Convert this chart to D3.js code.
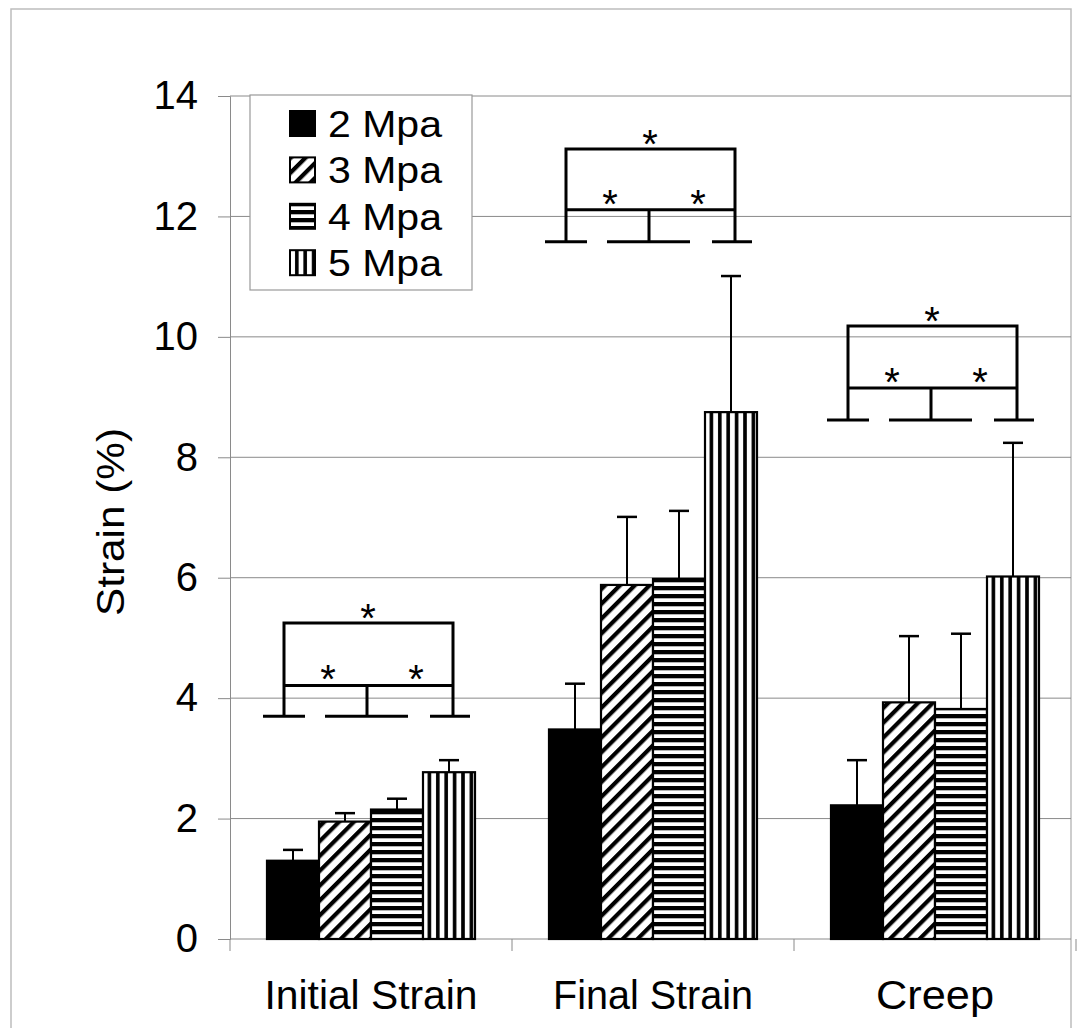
<!DOCTYPE html>
<html>
<head>
<meta charset="utf-8">
<script src="https://cdn.jsdelivr.net/npm/d3@7"></script>
<style>
  body { margin: 0; background: #fff; }
  svg { display: block; font-family: "Liberation Sans", Arial, sans-serif; }
</style>
</head>
<body>
<div id="chart"></div>
<script>
// data
const categories = ['Initial Strain', 'Final Strain', 'Creep']
const pressures = ['2 Mpa', '3 Mpa', '4 Mpa', '5 Mpa']
const means = [
  [1.30, 1.95, 2.15, 2.77],
  [3.48, 5.88, 5.98, 8.75],
  [2.22, 3.93, 3.82, 6.02]
]
const errors = [
  [0.18, 0.14, 0.18, 0.20],
  [0.76, 1.13, 1.13, 2.26],
  [0.75, 1.10, 1.25, 2.22]
]
// significance brackets (strain levels)
const bracketTop = [5.25, 13.12, 10.18]
const bracketMid = [4.21, 12.11, 9.15]
const bracketBase = [3.70, 11.58, 8.62]
const yTicks = [0, 2, 4, 6, 8, 10, 12, 14]

const width = 1078, height = 1028
const plotLeft = 230, plotRight = 1076, plotTop = 96, plotBottom = 939

const svg = d3.select('#chart').append('svg')
  .attr('width', width)
  .attr('height', height)

// patterns
const defs = svg.append('defs')
let pd = defs.append('pattern').attr('id', 'p3')
  .attr('patternUnits', 'userSpaceOnUse')
  .attr('width', 10.5).attr('height', 10.5)
  .attr('patternTransform', 'rotate(45)')
pd.append('rect').attr('width', 10.5).attr('height', 10.5).attr('fill', '#fff')
pd.append('rect').attr('width', 4.2).attr('height', 10.5).attr('fill', '#000')

let ph = defs.append('pattern').attr('id', 'p4')
  .attr('patternUnits', 'userSpaceOnUse')
  .attr('width', 8).attr('height', 8)
ph.append('rect').attr('width', 8).attr('height', 8).attr('fill', '#fff')
ph.append('rect').attr('y', 2).attr('width', 8).attr('height', 4.3).attr('fill', '#000')

let pv = defs.append('pattern').attr('id', 'p5')
  .attr('patternUnits', 'userSpaceOnUse')
  .attr('width', 8.4).attr('height', 8)
pv.append('rect').attr('width', 8.4).attr('height', 8).attr('fill', '#fff')
pv.append('rect').attr('x', 1).attr('width', 3.6).attr('height', 8).attr('fill', '#000')

const fills = ['#000', 'url(#p3)', 'url(#p4)', 'url(#p5)']

// frame
svg.append('path')
  .attr('d', `M11,1028 V9 H1071 V1028`)
  .attr('fill', 'none')
  .attr('stroke', '#bdbdbd')
  .attr('stroke-width', 1.5)

const x = d3.scaleBand().domain(categories).range([plotLeft, plotRight])
  .paddingInner(0.2624).paddingOuter(0.1312)
const xSub = d3.scaleBand().domain(pressures).range([0, x.bandwidth()])
const y = d3.scaleLinear().domain([0, 14]).range([plotBottom, plotTop])

// gridlines
svg.append('g').selectAll('line').data(yTicks.slice(1)).enter().append('line')
  .attr('x1', plotLeft).attr('x2', 1071)
  .attr('y1', d => y(d)).attr('y2', d => y(d))
  .attr('stroke', '#8a8a8a').attr('stroke-width', 1)

// y axis
const yAxis = svg.append('g')
  .attr('transform', `translate(${plotLeft},0)`)
  .call(d3.axisLeft(y).tickValues(yTicks).tickSize(12).tickPadding(20))
yAxis.select('.domain').attr('stroke', '#8a8a8a')
yAxis.selectAll('.tick line').attr('stroke', '#8a8a8a')
yAxis.selectAll('.tick text')
  .attr('font-size', 40).attr('fill', '#000')
  .attr('font-family', '"Liberation Sans", Arial, sans-serif')

// x axis line and boundary ticks
svg.append('line')
  .attr('x1', plotLeft).attr('x2', 1071).attr('y1', plotBottom).attr('y2', plotBottom)
  .attr('stroke', '#8a8a8a')
const step = x.step()
svg.append('g').selectAll('line').data(d3.range(categories.length + 1)).enter().append('line')
  .attr('x1', d => plotLeft + d * step).attr('x2', d => plotLeft + d * step)
  .attr('y1', plotBottom).attr('y2', plotBottom + 12)
  .attr('stroke', '#8a8a8a')

svg.append('g').selectAll('text').data(categories).enter().append('text')
  .attr('x', d => x(d) + x.bandwidth() / 2)
  .attr('y', 1009)
  .attr('text-anchor', 'middle')
  .attr('font-size', 40)
  .attr('textLength', (d, i) => [213, 200, 118][i])
  .attr('lengthAdjust', 'spacingAndGlyphs')
  .text(d => d)

// y label
svg.append('text')
  .attr('transform', 'translate(124,522) rotate(-90)')
  .attr('text-anchor', 'middle')
  .attr('font-size', 39)
  .attr('textLength', 188)
  .attr('lengthAdjust', 'spacingAndGlyphs')
  .text('Strain (%)')

// bars
const groups = svg.append('g').selectAll('g').data(categories).enter().append('g')
  .attr('transform', d => `translate(${x(d)},0)`)

groups.each(function (cat, ci) {
  const g = d3.select(this)
  pressures.forEach((p, pi) => {
    const v = means[ci][pi]
    const bx = xSub(p), bw = xSub.bandwidth()
    const cx = bx + bw / 2
    // error bar
    g.append('line')
      .attr('x1', cx).attr('x2', cx)
      .attr('y1', y(v)).attr('y2', y(v + errors[ci][pi]))
      .attr('stroke', '#000').attr('stroke-width', 2)
    g.append('line')
      .attr('x1', cx - 10).attr('x2', cx + 10)
      .attr('y1', y(v + errors[ci][pi])).attr('y2', y(v + errors[ci][pi]))
      .attr('stroke', '#000').attr('stroke-width', 2.5)
    g.append('rect')
      .attr('x', bx).attr('y', y(v))
      .attr('width', bw).attr('height', y(0) - y(v))
      .attr('fill', fills[pi])
      .attr('stroke', '#000').attr('stroke-width', 2.2)
  })
})

// significance brackets
const bL = -87, bR = 82, bM = -4
const baseSegs = [[-108, -66], [-46, 37], [59, 99]]
const brk = svg.append('g').attr('stroke', '#000').attr('stroke-width', 3).attr('fill', 'none')
categories.forEach((cat, ci) => {
  const c = x(cat) + x.bandwidth() / 2
  const yt = y(bracketTop[ci]), ym = y(bracketMid[ci]), yb = y(bracketBase[ci])
  brk.append('path')
    .attr('d', `M${c + bL},${yb} V${yt} H${c + bR} V${yb} M${c + bL},${ym} H${c + bR} M${c + bM},${ym} V${yb}`)
  baseSegs.forEach(s => {
    brk.append('line')
      .attr('x1', c + s[0]).attr('x2', c + s[1])
      .attr('y1', yb).attr('y2', yb)
  })
  const stars = [[-3, yt - 14], [-43, ym - 15], [45, ym - 15]]
  stars.forEach(s => {
    svg.append('text')
      .attr('x', c + s[0]).attr('y', s[1] + 23)
      .attr('text-anchor', 'middle')
      .attr('font-size', 40)
      .text('*')
  })
})

// legend
const lg = svg.append('g')
lg.append('rect')
  .attr('x', 250).attr('y', 95).attr('width', 222).attr('height', 195)
  .attr('fill', '#fff').attr('stroke', '#999').attr('stroke-width', 1.2)
pressures.forEach((p, i) => {
  const base = 137 + i * 46.4
  lg.append('rect')
    .attr('x', 290).attr('y', base - 26).attr('width', 25).attr('height', 25)
    .attr('fill', fills[i]).attr('stroke', '#000').attr('stroke-width', 2)
  lg.append('text')
    .attr('x', 328).attr('y', base)
    .attr('font-size', 37)
    .attr('textLength', 114)
    .attr('lengthAdjust', 'spacingAndGlyphs')
    .text(p)
})
</script>
</body>
</html>
